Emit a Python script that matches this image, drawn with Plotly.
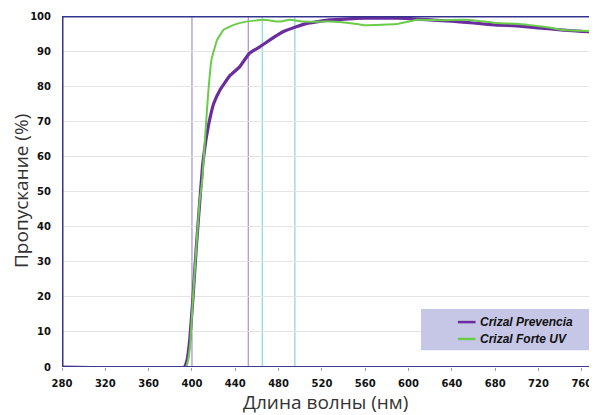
import plotly.graph_objects as go

# Data
prev_x = [280, 393, 395.5, 398, 401, 404, 407.4, 410, 413, 416, 420, 426, 435, 444, 453, 463, 472, 484, 497, 506, 527, 545, 560, 575, 589, 605, 620, 640, 660, 682, 700, 720, 743, 760, 775]
prev_y = [0, 0, 2, 8, 20, 34, 48, 58, 65, 70, 75, 79, 83, 85.5, 89.4, 91.3, 93.2, 95.5, 97, 97.9, 98.9, 99.2, 99.4, 99.4, 99.4, 99.2, 98.9, 98.5, 98, 97.4, 97.2, 96.6, 96, 95.6, 95.4]

forte_x = [280, 394.5, 396.5, 398.5, 401, 404, 407, 409.5, 412, 415, 418, 423, 429, 438, 450, 466, 481, 490, 502, 527, 545, 559, 575, 589, 608, 630, 651, 665, 682, 700, 712, 730, 743, 760, 775]
forte_y = [0, 0, 2, 7, 20, 34, 47, 53, 65, 78, 87.5, 93, 96, 97.4, 98.4, 98.9, 98.4, 98.9, 98.4, 98.4, 98, 97.4, 97.5, 97.7, 98.9, 98.8, 98.9, 98.6, 98, 97.8, 97.4, 96.7, 96, 95.8, 95.6]

series_names = ["Crizal Prevencia", "Crizal Forte UV"]
series_colors = ["#6b2d9e", "#6acd4a"]

vlines_purple = [400, 452]
vlines_cyan = [465, 495]
x_ticks = list(range(280, 761, 40))
y_ticks = list(range(0, 101, 10))

fig = go.Figure()
fig.add_trace(go.Scatter(x=prev_x, y=prev_y, mode="lines", name=series_names[0],
                         line=dict(color=series_colors[0], width=3.2, shape="spline", smoothing=0.3)))
fig.add_trace(go.Scatter(x=forte_x, y=forte_y, mode="lines", name=series_names[1],
                         line=dict(color=series_colors[1], width=2, shape="spline", smoothing=0.3)))

shapes = []
for v in vlines_purple:
    shapes.append(dict(type="line", xref="x", yref="y", x0=v, x1=v, y0=0, y1=100,
                       line=dict(color="#a58fd0", width=1.2), layer="below"))
for v in vlines_cyan:
    shapes.append(dict(type="line", xref="x", yref="y", x0=v, x1=v, y0=0, y1=100,
                       line=dict(color="#9ddbeb", width=1.5), layer="below"))
# frame lines
shapes.append(dict(type="line", xref="paper", yref="y", x0=0, x1=1, y0=100, y1=100,
                   line=dict(color="#34348e", width=3)))
shapes.append(dict(type="line", xref="x", yref="paper", x0=280, x1=280, y0=0, y1=1,
                   line=dict(color="#34348e", width=3)))
shapes.append(dict(type="line", xref="paper", yref="y", x0=0, x1=1, y0=0, y1=0,
                   line=dict(color="#3a3a90", width=2)))

# custom legend box (paper coordinates)
lx0, lx1, ly0, ly1 = 0.671, 0.996, 0.048, 0.165
shapes.append(dict(type="rect", xref="paper", yref="paper", x0=lx0, x1=lx1, y0=ly0, y1=ly1,
                   fillcolor="#c6c6e6", line=dict(width=0)))
annotations = []
row_y = [0.128, 0.080]
for name, col, ry in zip(series_names, series_colors, row_y):
    shapes.append(dict(type="line", xref="paper", yref="paper", x0=0.740, x1=0.773, y0=ry, y1=ry,
                       line=dict(color=col, width=2.5)))
    annotations.append(dict(xref="paper", yref="paper", x=0.778, y=ry, xanchor="left", yanchor="middle",
                            text="<b><i>" + name + "</i></b>", showarrow=False,
                            font=dict(family="Liberation Sans", size=12, color="#111111")))

# axis titles
annotations.append(dict(xref="paper", yref="paper", x=(325 - 62) / 535, y=(367 - 402) / 351, xanchor="center",
                        yanchor="middle", text="Длина волны (нм)", showarrow=False,
                        font=dict(family="Open Sans", size=19, color="#333333")))
annotations.append(dict(xref="paper", yref="paper", x=(21 - 62) / 535, y=(367 - 191) / 351, xanchor="center",
                        yanchor="middle", text="Пропускание (%)", showarrow=False, textangle=-90,
                        font=dict(family="Open Sans", size=19, color="#333333")))

# page body has an 8px default margin, so the figure is sized to fill the rest of the window
fig.update_layout(
    width=589, height=407,
    margin=dict(l=54, r=0, t=8, b=48),
    paper_bgcolor="white", plot_bgcolor="white",
    shapes=shapes, annotations=annotations,
    showlegend=False,
    xaxis=dict(range=[280, 774], tickvals=x_ticks, ticktext=["<b>%d</b>" % t for t in x_ticks],
               showgrid=False, zeroline=False, showline=False, automargin=False,
               ticks="outside", ticklen=3, tickcolor="#9a9ab8", ticklabelstandoff=4,
               tickfont=dict(family="DejaVu Sans", size=10, color="#111111")),
    yaxis=dict(range=[0, 100], tickvals=y_ticks, ticktext=["<b>%d</b>" % t for t in y_ticks],
               showgrid=True, gridcolor="#e4e4e4", gridwidth=1, zeroline=False, showline=False,
               automargin=False, ticks="", ticklabelstandoff=10,
               tickfont=dict(family="DejaVu Sans", size=10, color="#111111")),
)

fig.write_html("out.html")
